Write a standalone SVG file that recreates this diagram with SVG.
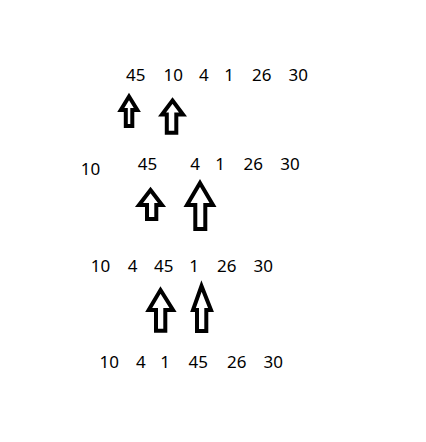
<svg xmlns="http://www.w3.org/2000/svg" width="426" height="442" viewBox="0 0 426 442">
<style>
text{font-family:"Noto Sans","Open Sans","DejaVu Sans",sans-serif;font-size:17px;fill:#000;text-anchor:middle}
.arr{fill:#fff;stroke:#000;stroke-width:4;stroke-linejoin:miter}
</style>
<rect width="426" height="442" fill="#fff"/>
<g id="row1">
<text x="135.8" y="81">45</text><text x="173.3" y="81">10</text><text x="203.8" y="81">4</text><text x="229" y="81">1</text><text x="261.7" y="81">26</text><text x="298.3" y="81">30</text>
</g>
<g id="row2">
<text x="90.5" y="175">10</text><text x="147.5" y="170">45</text><text x="195" y="170">4</text><text x="220" y="170">1</text><text x="253.3" y="170">26</text><text x="290" y="170">30</text>
</g>
<g id="row3">
<text x="100.5" y="272">10</text><text x="132.7" y="272">4</text><text x="163.8" y="272">45</text><text x="194.2" y="272">1</text><text x="226.7" y="272">26</text><text x="263.3" y="272">30</text>
</g>
<g id="row4">
<text x="109.2" y="368">10</text><text x="140.8" y="368">4</text><text x="165" y="368">1</text><text x="198.3" y="368">45</text><text x="236.7" y="368">26</text><text x="273.3" y="368">30</text>
</g>
<g id="arrows">
<path class="arr" d="M129 96.5 L137.3 110 L132.3 110 L132.3 126 L125.8 126 L125.8 110 L120.8 110 Z"/>
<path class="arr" d="M172.5 100.5 L183 114.5 L176.3 114.5 L176.3 132.7 L166.8 132.7 L166.8 114.5 L162 114.5 Z"/>
<path class="arr" d="M150.5 190 L162 205 L156.3 205 L156.3 219 L147 219 L147 205 L139 205 Z"/>
<path class="arr" d="M200 183 L213 205 L205.3 205 L205.3 229 L195.3 229 L195.3 205 L187 205 Z"/>
<path class="arr" d="M160.5 290 L173 310 L165.3 310 L165.3 330.7 L156 330.7 L156 310 L148.7 310 Z"/>
<path class="arr" d="M201.5 286 L211 310 L206.3 310 L206.3 331 L197 331 L197 310 L193 310 Z"/>
</g>
</svg>
